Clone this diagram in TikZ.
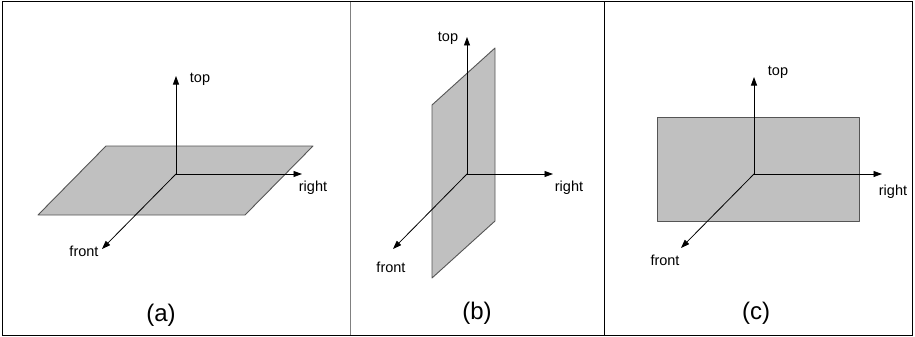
\documentclass[tikz,border=0pt]{standalone}
\usepackage{fontspec}
\setmainfont{Liberation Sans}
\usepackage{tikz}
\usetikzlibrary{arrows.meta,positioning,calc}
\definecolor{planefill}{HTML}{C0C0C0}
\definecolor{planeedge}{HTML}{555555}
\tikzset{
  plane/.style   ={draw=planeedge,fill=planefill,line width=0.9pt,line join=round},
  axis/.style    ={-{Triangle[length=8.5pt,width=6pt]},line width=0.8pt},
  lbl/.style     ={font=\fontsize{14.5}{14.5}\selectfont,inner sep=0pt},
  caption/.style ={font=\fontsize{24}{24}\selectfont,inner sep=0pt},
  frame/.style   ={line width=1pt},
}
\begin{document}
\begin{tikzpicture}[x=1pt,y=-1pt]
  \useasboundingbox (0,0) rectangle (915,337);
  \draw[frame] (2,2) rectangle (912,335);
  \draw[frame,gray] (350,2) -- (350,335);
  \draw[frame] (604,2) -- (604,335);

  % (a) horizontal plane
  \draw[plane] (106,146) -- (313,146) -- (245,215) -- (38,215) -- cycle;
  \coordinate (oa) at (176,174);
  \node[lbl] (topa)   at (200,79)  {top};
  \node[lbl] (righta) at (313,188) {right};
  \node[lbl] (fronta) at (84,251)  {front};
  \coordinate (ta) at (176,76);
  \coordinate (ra) at (302,174);
  \coordinate (fa) at (102,249);
  \foreach \e in {ta,ra,fa} \draw[axis] (oa) -- (\e);
  \node[caption] (capa) at (161,315) {(a)};

  % (b) vertical plane, facing right
  \draw[plane] (495,48) -- (432,105) -- (432,278) -- (495,221) -- cycle;
  \coordinate (ob) at (467,174);
  \node[lbl] (topb)   at (448,38)  {top};
  \node[lbl] (rightb) at (569,188) {right};
  \node[lbl] (frontb) at (391,267) {front};
  \coordinate (tb) at (467,37);
  \coordinate (rb) at (553,174);
  \coordinate (fb) at (393,249);
  \foreach \e in {tb,rb,fb} \draw[axis] (ob) -- (\e);
  \node[caption] (capb) at (477,313) {(b)};

  % (c) vertical plane, facing front
  \draw[plane] (657,117) rectangle (859,221);
  \coordinate (oc) at (754,174);
  \node[lbl] (topc)   at (778,72)  {top};
  \node[lbl] (rightc) at (893,192) {right};
  \node[lbl] (frontc) at (665,260) {front};
  \coordinate (tc) at (754,77);
  \coordinate (rc) at (882,174);
  \coordinate (fc) at (681,248);
  \foreach \e in {tc,rc,fc} \draw[axis] (oc) -- (\e);
  \node[caption] (capc) at (756,313) {(c)};
\end{tikzpicture}
\end{document}
